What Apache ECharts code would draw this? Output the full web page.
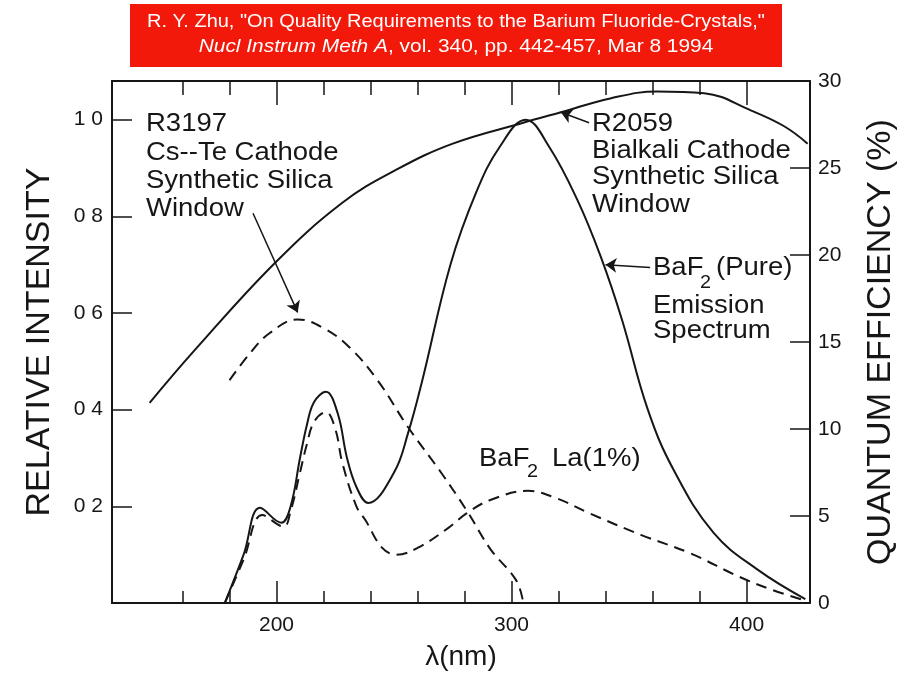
<!DOCTYPE html>
<html>
<head>
<meta charset="utf-8">
<title>BaF2 emission vs PMT quantum efficiency</title>
<script src="https://cdn.jsdelivr.net/npm/echarts@6/dist/echarts.min.js"></script>
<style>
  html, body { margin: 0; padding: 0; background: #fff; }
  #chart { width: 912px; height: 674px; }
</style>
</head>
<body>
<div id="chart"></div>
<script>
// values (wavelength in nm)
var pureNm  = [178, 186, 193, 202, 206, 210, 213, 216, 221, 226, 230, 234, 239, 250, 256, 262, 274, 285, 295, 306, 316, 328, 338, 347, 358, 369, 386, 405, 425];
var pureVal = [0, 0.10, 0.197, 0.166, 0.20, 0.30, 0.37, 0.416, 0.437, 0.393, 0.30, 0.24, 0.207, 0.27, 0.352, 0.46, 0.70, 0.85, 0.944, 1.0, 0.944, 0.834, 0.716, 0.586, 0.40, 0.275, 0.145, 0.068, 0.008];

var laNm  = [178, 186, 194, 203, 206, 210, 213, 216, 221, 225, 228, 234, 238, 245, 251, 260, 273, 281, 291, 307, 319, 333, 355, 376, 397, 411, 425];
var laVal = [0, 0.09, 0.182, 0.158, 0.19, 0.27, 0.33, 0.375, 0.395, 0.36, 0.29, 0.20, 0.17, 0.114, 0.10, 0.114, 0.155, 0.186, 0.213, 0.232, 0.217, 0.186, 0.141, 0.103, 0.054, 0.027, 0.005];

// quantum efficiency (%)
var r2059Nm = [146, 165, 199, 228, 251, 275, 305, 321, 342, 362, 382, 402, 416, 426];
var r2059Qe = [11.5, 14.5, 19.5, 23.0, 24.9, 26.4, 27.6, 28.2, 29.0, 29.4, 29.3, 28.3, 27.4, 26.4];

var r3197Nm = [180, 189, 197, 209, 220, 231, 243, 256, 270, 281, 291, 302, 305];
var r3197Qe = [12.8, 14.4, 15.5, 16.3, 15.8, 14.7, 12.8, 10.1, 7.5, 5.3, 3.1, 1.3, 0];

var xMajorTicks = [200, 300, 400];
var xMinorTicks = [160, 180, 220, 240, 260, 280, 320, 340, 360, 380];
var leftTicks = [0.2, 0.4, 0.6, 0.8, 1.0];
var rightTicks = [5, 10, 15, 20, 25];

var FONT = '"Liberation Sans", Arial, Helvetica, sans-serif';
var INK = '#161616';

function pairs(xs, ys) {
  return xs.map(function (x, i) { return [x, ys[i]]; });
}

function arrow(from, to) {
  return {
    silent: true,
    symbol: ['none', 'arrow'],
    symbolSize: 11,
    lineStyle: { color: INK, width: 1.5, type: 'solid' },
    label: { show: false },
    emphasis: { disabled: true },
    data: [[{ coord: from }, { coord: to }]]
  };
}

function note(x, y, text, size) {
  return {
    type: 'text', x: x, y: y, scaleX: 1.1, silent: true,
    style: { text: text, fill: INK, fontSize: size || 25, fontFamily: FONT, verticalAlign: 'middle' }
  };
}

function xAxisOf(pos, ticks, len, showLine, showLabel) {
  return {
    type: 'value', position: pos, min: 130, max: 427,
    axisLine: { show: showLine, onZero: false, lineStyle: { color: INK, width: 2 } },
    axisTick: { show: true, inside: true, length: len, customValues: ticks, lineStyle: { color: INK, width: 1.5 } },
    axisLabel: { show: showLabel, customValues: ticks, fontSize: 21, color: INK, fontFamily: FONT, margin: 12 },
    splitLine: { show: false }
  };
}

var chart = echarts.init(document.getElementById('chart'), null, { renderer: 'canvas' });

var bottomMajor = xAxisOf('bottom', xMajorTicks, 22, true, true);
bottomMajor.name = 'λ(nm)';
bottomMajor.nameLocation = 'middle';
bottomMajor.nameGap = 40;
bottomMajor.nameTextStyle = { fontSize: 28, color: INK, fontFamily: FONT };

var option = {
  animation: false,
  backgroundColor: '#fff',
  grid: { left: 112, right: 102, top: 81, bottom: 71, containLabel: false, outerBoundsMode: 'none' },
  xAxis: [
    bottomMajor,
    xAxisOf('bottom', xMinorTicks, 12, false, false),
    xAxisOf('top', xMajorTicks, 24, true, false),
    xAxisOf('top', xMinorTicks, 14, false, false)
  ],
  yAxis: [
    {
      type: 'value', position: 'left', min: 0, max: 1.08,
      name: 'RELATIVE INTENSITY', nameLocation: 'middle', nameRotate: 90, nameGap: 55,
      nameTextStyle: { fontSize: 34, color: INK, fontFamily: FONT },
      axisLine: { show: true, lineStyle: { color: INK, width: 2 } },
      axisTick: { show: true, inside: true, length: 20, customValues: leftTicks, lineStyle: { color: INK, width: 1.5 } },
      axisLabel: {
        customValues: leftTicks, fontSize: 21, color: INK, fontFamily: FONT, margin: 9,
        formatter: function (v) { return v.toFixed(1).replace('.', ' '); }
      },
      splitLine: { show: false }
    },
    {
      type: 'value', position: 'right', min: 0, max: 30, interval: 5,
      name: 'QUANTUM EFFICIENCY (%)', nameLocation: 'middle', nameRotate: 90, nameGap: 54,
      nameTextStyle: { fontSize: 34, color: INK, fontFamily: FONT },
      axisLine: { show: true, lineStyle: { color: INK, width: 2 } },
      axisTick: { show: true, inside: true, length: 20, customValues: rightTicks, lineStyle: { color: INK, width: 1.5 } },
      axisLabel: { fontSize: 21, color: INK, fontFamily: FONT, margin: 8 },
      splitLine: { show: false }
    }
  ],
  series: [
    {
      name: 'R2059 Bialkali Cathode', type: 'line', xAxisIndex: 0, yAxisIndex: 1,
      data: pairs(r2059Nm, r2059Qe), smooth: 0.4, showSymbol: false,
      lineStyle: { color: INK, width: 2 },
      markLine: arrow([333, 27.6], [321, 28.2])
    },
    {
      name: 'R3197 Cs-Te Cathode', type: 'line', xAxisIndex: 0, yAxisIndex: 1,
      data: pairs(r3197Nm, r3197Qe), smooth: 0.4, showSymbol: false,
      lineStyle: { color: INK, width: 2, type: [11, 7] },
      markLine: arrow([190, 22.4], [209, 16.7])
    },
    {
      name: 'BaF2 (Pure)', type: 'line', xAxisIndex: 0, yAxisIndex: 0,
      data: pairs(pureNm, pureVal), smooth: 0.4, showSymbol: false,
      lineStyle: { color: INK, width: 2 },
      markLine: arrow([359, 0.694], [340, 0.70])
    },
    {
      name: 'BaF2 La(1%)', type: 'line', xAxisIndex: 0, yAxisIndex: 0,
      data: pairs(laNm, laVal), smooth: 0.4, showSymbol: false,
      lineStyle: { color: INK, width: 2, type: [11, 7] }
    }
  ],
  graphic: [
    { type: 'rect', silent: true, shape: { x: 130, y: 4, width: 652, height: 63 }, style: { fill: '#f2190b' } },
    {
      type: 'text', x: 456, y: 22, scaleX: 1.08, silent: true,
      style: {
        text: 'R. Y. Zhu, "On Quality Requirements to the Barium Fluoride-Crystals,"',
        fill: '#fff', fontSize: 18.5, fontFamily: FONT, align: 'center', verticalAlign: 'middle'
      }
    },
    {
      type: 'text', x: 456, y: 47, scaleX: 1.1, silent: true,
      style: {
        text: '{i|Nucl Instrum Meth A}, vol. 340, pp. 442-457, Mar 8 1994',
        fill: '#fff', fontSize: 19, fontFamily: FONT, align: 'center', verticalAlign: 'middle',
        rich: { i: { fontStyle: 'italic', fill: '#fff', fontSize: 19, fontFamily: FONT } }
      }
    },

    note(146, 124, 'R3197'),
    note(146, 153, 'Cs--Te Cathode'),
    note(146, 181, 'Synthetic Silica'),
    note(146, 209, 'Window'),

    note(592, 124, 'R2059'),
    note(592, 151, 'Bialkali Cathode'),
    note(592, 177, 'Synthetic Silica'),
    note(592, 205, 'Window'),

    note(653, 268, 'BaF'),
    note(700, 283, '2', 18),
    note(716, 268, '(Pure)'),
    note(653, 306, 'Emission'),
    note(653, 331, 'Spectrum'),

    note(479, 459, 'BaF'),
    note(527, 472, '2', 18),
    note(552, 459, 'La(1%)')
  ]
};

chart.setOption(option);
</script>
</body>
</html>
